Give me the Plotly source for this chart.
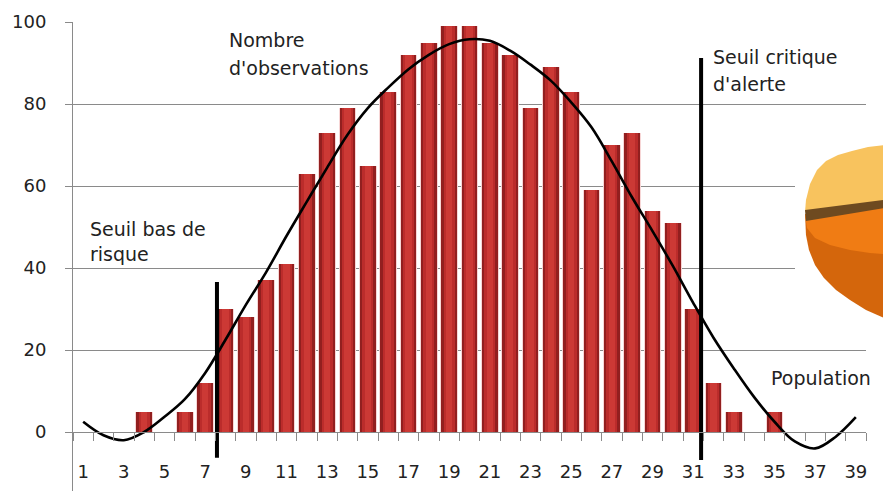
import plotly.graph_objects as go

# ---------------- data ----------------
categories = list(range(1, 40))
observations = [0, 0, 0, 5, 0, 5, 12, 30, 28, 37,
                41, 63, 73, 79, 65, 83, 92, 95, 99, 99,
                95, 92, 79, 89, 83, 59, 70, 73, 54, 51,
                30, 12, 5, 0, 5, 0, 0, 0, 0]
population = [2.5, -0.8, -2, 0, 3.7, 8, 14.4, 22.5, 31, 39,
              47.8, 56.2, 64.5, 72.5, 79, 84, 88.5, 92, 94.6, 95.8,
              95.4, 93, 89.6, 85.7, 80.4, 74.3, 66, 57.2, 49, 40.5,
              31.5, 23, 15.5, 8.5, 2.5, -2.3, -4, -1.2, 3.6]
x_tick_vals = list(range(1, 40, 2))
y_tick_vals = [0, 20, 40, 60, 80, 100]

seuil_bas_x = [7.58, 7.58]
seuil_bas_y = [-6.3, 36.6]
seuil_critique_x = [31.39, 31.39]
seuil_critique_y = [-6.8, 91.2]

# ---------------- layout geometry ----------------
W, H = 883, 491
ML, MR, MT, MB = 73, 17, 22, 0
PW, PH = W - ML - MR, H - MT - MB
Y_MIN, Y_MAX = -14.39, 100


def px(xp):
    return (xp - ML) / PW


def py(yp):
    return (H - yp) / PH


def path(points):
    return "M " + " L ".join(f"{px(a):.4f},{py(b):.4f}" for a, b in points) + " Z"


fig = go.Figure()

# bars with fake shading (halo, dark edges, lighter centre)
fig.add_trace(go.Bar(x=categories, y=observations, width=0.86,
                     marker=dict(color="#f7d6d6", line=dict(width=0)),
                     hoverinfo="skip", showlegend=False))
fig.add_trace(go.Bar(x=categories, y=observations, width=0.77,
                     marker=dict(color="#921f1f", line=dict(width=0)),
                     showlegend=False, name="Nombre d'observations"))
fig.add_trace(go.Bar(x=categories, y=observations, width=0.55,
                     marker=dict(color="#bb2c2b", line=dict(width=0)),
                     hoverinfo="skip", showlegend=False))
fig.add_trace(go.Bar(x=categories, y=observations, width=0.3,
                     marker=dict(color="#cc3935", line=dict(width=0)),
                     hoverinfo="skip", showlegend=False))

# fitted curve
fig.add_trace(go.Scatter(x=categories, y=population, mode="lines",
                         line=dict(color="black", width=2.6, shape="spline", smoothing=1.0),
                         showlegend=False, name="Population"))

# threshold lines
fig.add_trace(go.Scatter(x=seuil_bas_x, y=seuil_bas_y, mode="lines",
                         line=dict(color="black", width=4), showlegend=False))
fig.add_trace(go.Scatter(x=seuil_critique_x, y=seuil_critique_y, mode="lines",
                         line=dict(color="black", width=4), showlegend=False))

# ---------------- decorative pie fragment ----------------
shapes = []
shapes.append(dict(type="rect", xref="paper", yref="paper",
                   x0=px(795), x1=px(884), y0=py(335), y1=py(112),
                   fillcolor="white", line=dict(width=0), layer="above"))
shapes.append(dict(type="path", xref="paper", yref="paper",
                   path=path([(805, 214), (806, 235), (809, 250), (815, 265), (824, 278),
                              (836, 290), (850, 300), (866, 310), (884, 318), (884, 214)]),
                   fillcolor="#d4660c", line=dict(width=0), layer="above"))
shapes.append(dict(type="path", xref="paper", yref="paper",
                   path=path([(805, 214), (807, 228), (815, 238), (830, 245), (850, 250),
                              (870, 253), (884, 254), (884, 206)]),
                   fillcolor="#f07c14", line=dict(width=0), layer="above"))
shapes.append(dict(type="path", xref="paper", yref="paper",
                   path=path([(805, 212), (806, 200), (810, 184), (817, 170), (826, 161),
                              (838, 155), (852, 151), (868, 147), (884, 145), (884, 203)]),
                   fillcolor="#f8c35e", line=dict(width=0), layer="above"))
shapes.append(dict(type="path", xref="paper", yref="paper",
                   path=path([(805, 210), (884, 200), (884, 208), (806, 221)]),
                   fillcolor="#6e4a20", line=dict(width=0), layer="above"))

# ---------------- annotations ----------------
font_ann = dict(family="DejaVu Sans", size=19, color="#222222")
ann_specs = [
    ("Nombre", 8.07, 95.6),
    ("d'observations", 8.07, 88.8),
    ("Seuil bas de", 1.24, 49.5),
    ("risque", 1.24, 43.4),
    ("Seuil critique", 31.88, 91.5),
    ("d'alerte", 31.88, 84.9),
    ("Population", 34.73, 13.2),
]
annotations = [dict(text=t, x=x, y=y, xref="x", yref="y", xanchor="left", yanchor="middle",
                    showarrow=False, font=font_ann) for t, x, y in ann_specs]

fig.update_layout(
    width=W, height=H,
    margin=dict(l=ML, r=MR, t=MT, b=MB, pad=0),
    paper_bgcolor="white", plot_bgcolor="white",
    barmode="overlay", bargap=0,
    shapes=shapes, annotations=annotations,
    font=dict(family="DejaVu Sans", size=18, color="#222222"),
    xaxis=dict(range=[0.5, 39.5], tickmode="array", tickvals=x_tick_vals,
               ticktext=[str(v) for v in x_tick_vals],
               anchor="free", position=py(432),
               showline=True, linecolor="#8a8a8a", linewidth=1,
               showgrid=False, zeroline=False, ticks="",
               ticklabelstandoff=23,
               minor=dict(ticks="outside", tick0=0.5, dtick=1, ticklen=8,
                          tickcolor="#8a8a8a", showgrid=False),
               tickfont=dict(family="DejaVu Sans", size=18, color="#222222")),
    yaxis=dict(range=[Y_MIN, Y_MAX], tickmode="array", tickvals=y_tick_vals,
               showline=True, linecolor="#8a8a8a", linewidth=1,
               showgrid=True, gridcolor="#8a8a8a", gridwidth=1,
               zeroline=False, ticks="outside", ticklen=7, tickcolor="#8a8a8a",
               ticklabelstandoff=15,
               tickfont=dict(family="DejaVu Sans", size=18, color="#222222")),
)

fig.write_html("out.html", config={"displayModeBar": False},
               post_script="document.body.style.margin='0px';")
